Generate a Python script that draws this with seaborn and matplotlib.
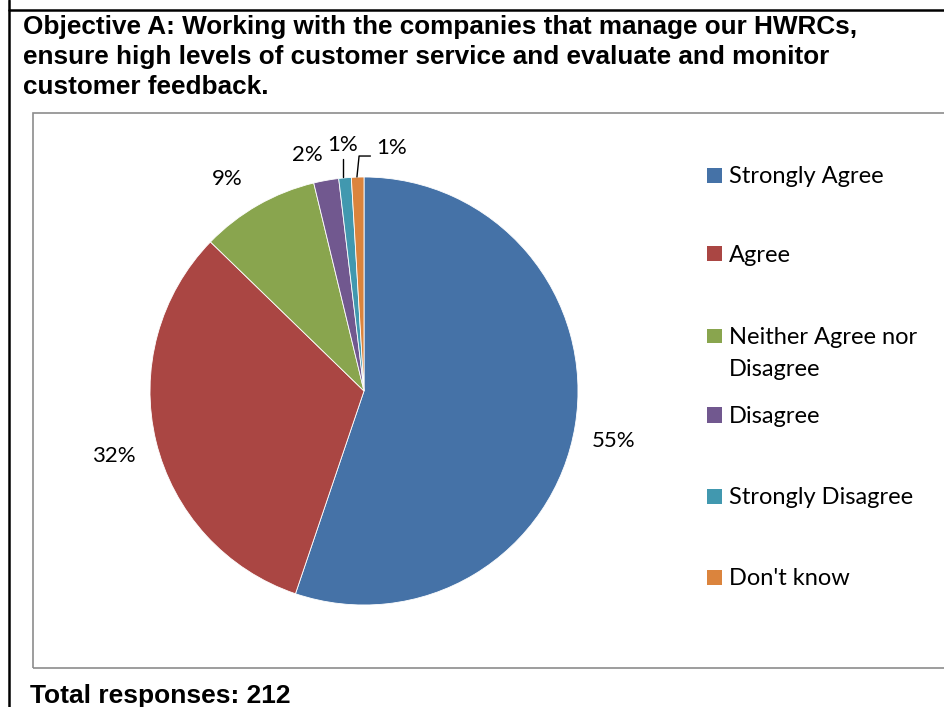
import numpy as np
import matplotlib
matplotlib.use("Agg")
import matplotlib.pyplot as plt
import seaborn as sns

# Data
categories = ["Strongly Agree", "Agree", "Neither Agree nor\nDisagree",
              "Disagree", "Strongly Disagree", "Don't know"]
responses = [117, 68, 19, 4, 2, 2]
pct_labels = ["55%", "32%", "9%", "2%", "1%", "1%"]
title_lines = ["Objective A: Working with the companies that manage our HWRCs,",
               "ensure high levels of customer service and evaluate and monitor",
               "customer feedback."]
total_text = "Total responses: 212"

sns.set_theme(style="white")
plt.rcParams['font.family'] = ['Lato', 'DejaVu Sans']
colors = ["#4572A7", "#AA4643", "#89A54E", "#71588F", "#4198AF", "#DB843D"]

W, H = 945, 707
fig = plt.figure(figsize=(W / 100, H / 100), dpi=100)

def fx(px):
    return px / W

def fy(py):
    return 1 - py / H

# table-cell borders
fig.add_artist(plt.Line2D([fx(9), fx(9)], [0, 1], color="black", lw=1.8))
fig.add_artist(plt.Line2D([fx(9), 1], [fy(10), fy(10)], color="black", lw=1.8))

# title lines
for i, line in enumerate(title_lines):
    fig.text(fx(23), fy(34 + i * 30), line, fontsize=18.8, fontweight="bold",
             family="Liberation Sans", ha="left", va="baseline", color="black")

# chart area box
box = plt.Rectangle((fx(33), fy(668)), 1.0, fy(113) - fy(668),
                    transform=fig.transFigure, fill=False, edgecolor="#8c8c8c", lw=1.2)
fig.add_artist(box)

fig.text(fx(30), fy(703), total_text, fontsize=19, fontweight="bold",
         family="Liberation Sans", ha="left", va="baseline", color="black")

# pie axes: center (364, 391), radius 214 px
ax = fig.add_axes([fx(150), fy(605), fx(428), fy(177) - fy(605)])
wedges, _ = ax.pie(responses, colors=colors, startangle=90, counterclock=False,
                   radius=1.0, wedgeprops=dict(edgecolor="white", linewidth=0.6))
ax.set_xlim(-1, 1)
ax.set_ylim(-1, 1)
ax.set_aspect("equal")
ax.axis("off")

# label placement (distance from centre, angle shift in degrees)
label_layout = [(1.19, -2), (1.21, 1), (1.18, 3), None, None, None]
small_pos = {3: (-0.266, 1.103), 4: (-0.098, 1.15), 5: (0.131, 1.136)}
for i, w in enumerate(wedges):
    if label_layout[i] is not None:
        d, shift = label_layout[i]
        ang = np.deg2rad((w.theta1 + w.theta2) / 2 + shift)
        x, y = d * np.cos(ang), d * np.sin(ang)
    else:
        x, y = small_pos[i]
    ax.text(x, y, pct_labels[i], fontsize=16, ha="center", va="center",
            color="black", clip_on=False)

# leader lines for the two 1% slices
for lx, ly in [([-0.098, -0.098], [1.0, 1.084]),
               ([-0.033, -0.023, 0.03], [1.0, 1.098, 1.098])]:
    ax.plot(lx, ly, color="black", lw=1.0, clip_on=False)

# legend (Excel style: marker beside first line of each entry)
legend_y = [175, 254, 336, 415, 496, 577]
for c, lab, yc in zip(colors, categories, legend_y):
    fig.add_artist(plt.Rectangle((fx(707), fy(yc + 7.5)), fx(15), fy(yc - 7.5) - fy(yc + 7.5),
                                 transform=fig.transFigure, facecolor=c, edgecolor="none"))
    for j, part in enumerate(lab.split("\n")):
        fig.text(fx(729), fy(yc + 8 + 32 * j), part, fontsize=17, ha="left",
                 va="baseline", color="black")

fig.savefig("out.png", dpi=100, facecolor="white")
